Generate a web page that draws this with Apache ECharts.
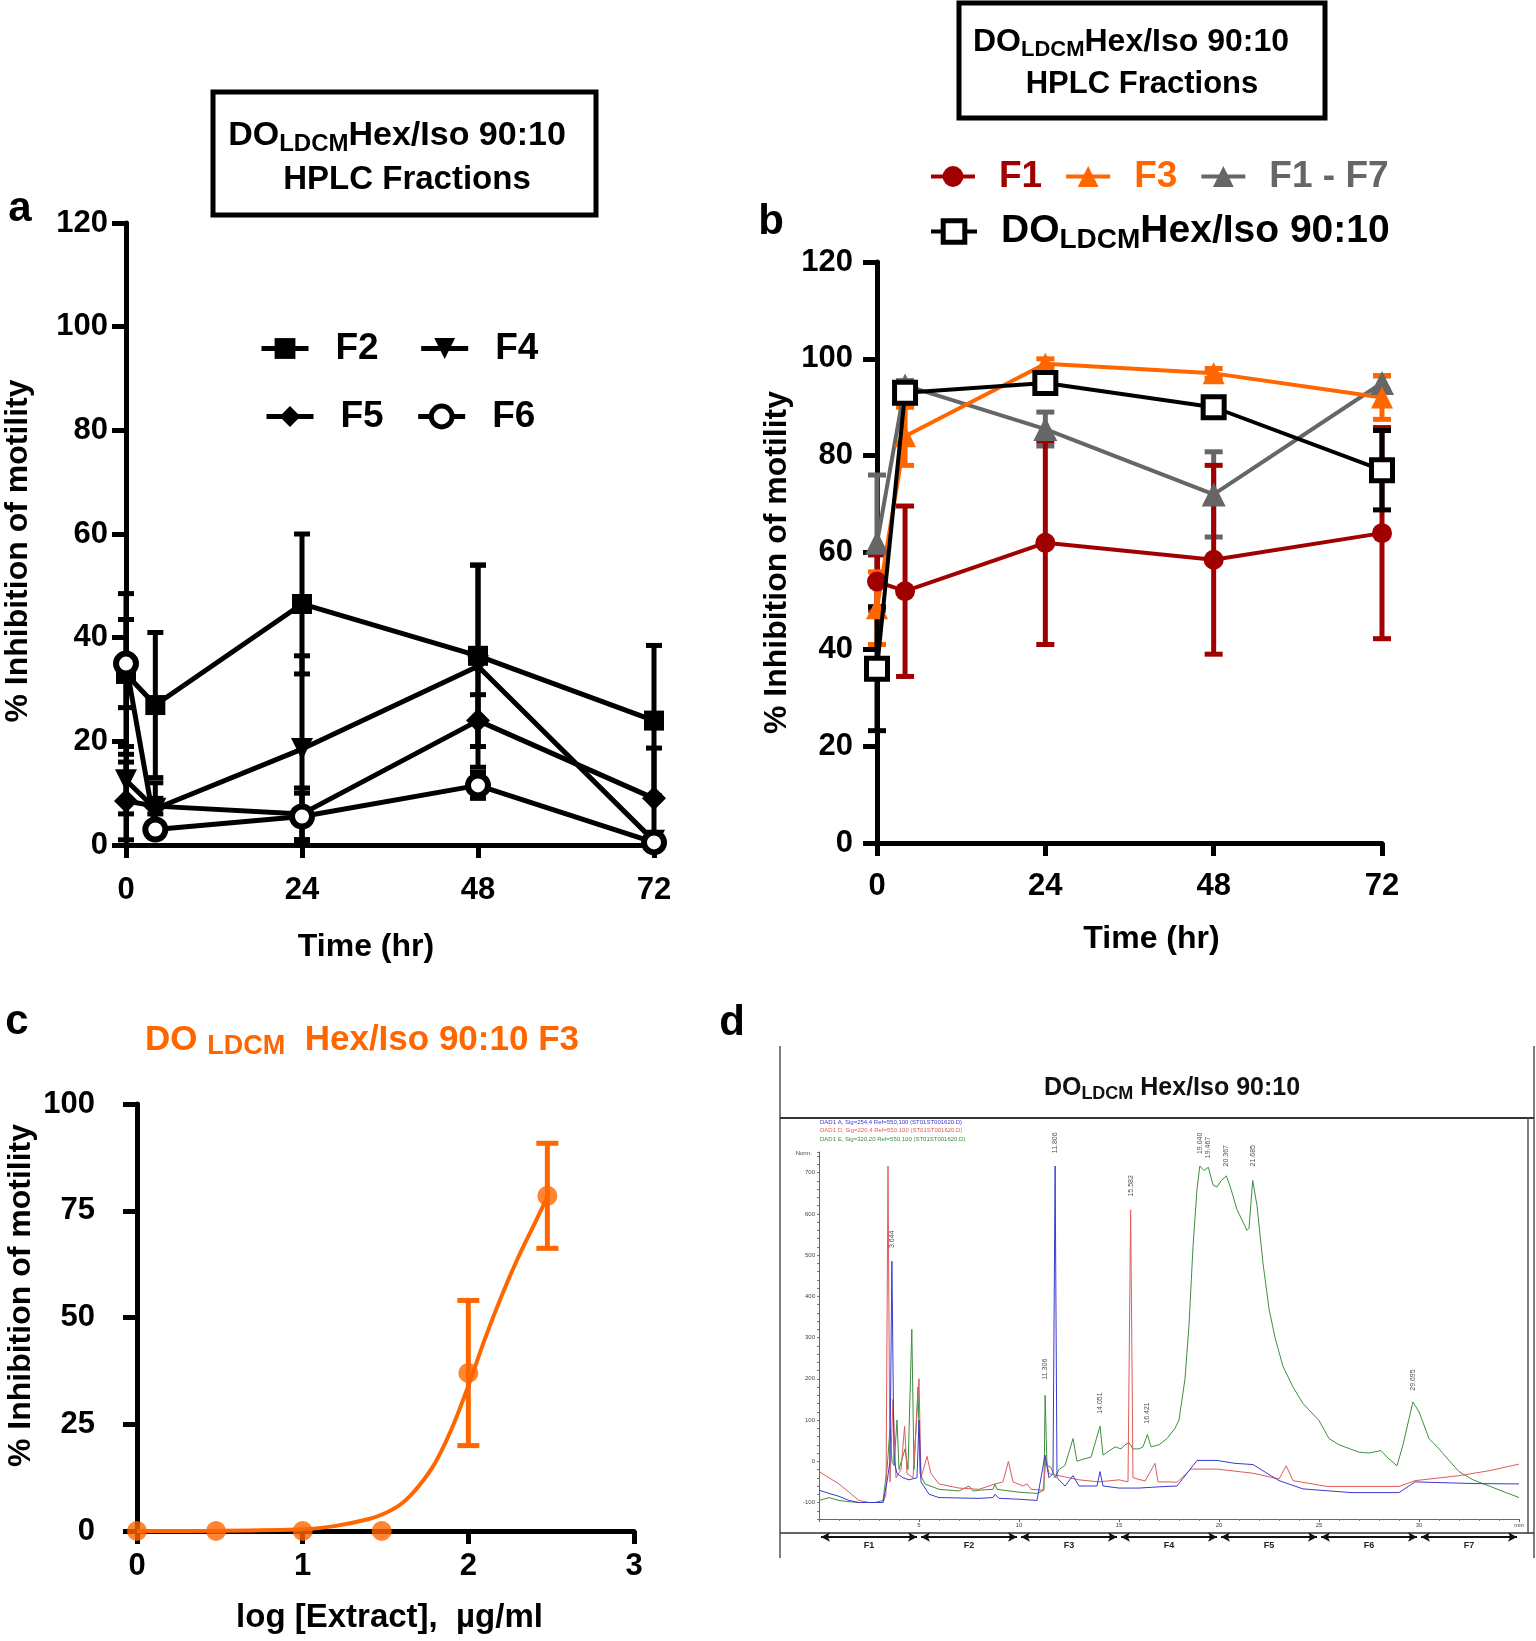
<!DOCTYPE html>
<html><head><meta charset="utf-8">
<script src="https://cdn.jsdelivr.net/npm/echarts@6/dist/echarts.min.js"></script>
<style>html,body{margin:0;padding:0;background:#fff}#c{width:1536px;height:1641px}</style>
</head><body><div id="c"></div>
<script>
// ================= DATA =================
// Panels a & b: time points (hr)
const timePoints = [0, 4, 24, 48, 72];
// Panel a (HPLC fractions F2, F4, F5, F6): mean % inhibition and SD
const a_F2 = [33, 27, 46.5, 36.5, 24];
const a_F2_sd = [15.5, 14, 13.5, 17.5, 14.5];
const a_F4 = [12.5, 7, 18.5, 34.5, 0.8];
const a_F4_sd = [6.5, 5, 18, 19.5, 0.5];
const a_F5 = [8.5, 7.5, 6, 24, 9];
const a_F5_sd = [7.5, 1.5, 5, 5, 9.7];
const a_F6 = [35, 3, 5.5, 11.5, 0.5];
const a_F6_sd = [8.5, 1, 4.5, 2.5, 0.5];
// Panel b
const b_F1 = [54, 52, 62, 58.5, 64];
const b_F1_sd = [5.5, 17.6, 21, 19.5, 21.8];
const b_F3 = [48.5, 84, 99, 97, 92];
const b_F3_sd = [7.5, 6, 1, 1, 4.5];
const b_F1F7 = [62, 94.5, 85.5, 72, 95];
const b_F1F7_sd = [14, 1, 3.5, 8.8, 1.5];
const b_DO = [36, 93, 95, 90, 77];
const b_DO_sd = [12.8, 1, 1, 1.5, 8.2];
// Panel c: dose response of F3
const c_logDose = [0, 0.477, 1, 1.477, 2, 2.477];
const c_inhib = [0, 0, 0, 0, 37, 78.5];
const c_sd = [0, 0, 0, 0, 17, 12.3];
const c_fitX = [0, 0.5, 1.0, 1.2, 1.4, 1.5, 1.6, 1.7, 1.8, 1.9, 2.0, 2.1, 2.2, 2.3, 2.4, 2.48];
const c_fitY = [0, 0.05, 0.4, 1.2, 2.8, 4.2, 6.5, 10.5, 16, 24, 34, 45, 55, 64, 72, 78.5];
// Panel d: HPLC chromatogram traces [retention time (min), response (mAU)]
const traceBlue = [[0,-70],[0.5,-78],[1,-85],[1.5,-95],[2,-100],[3.2,-100],[3.4,-50],[3.55,0],[3.644,485],[3.75,0],[3.9,-30],[4.2,-40],[4.5,-45],[4.9,-40],[5.0,100],[5.1,-50],[5.5,-80],[6,-88],[8,-90],[8.7,-88],[8.8,-80],[9,-90],[10,-92],[10.9,-95],[11.3,15],[11.5,-40],[11.7,-30],[11.806,716],[11.9,-40],[12.3,-60],[12.7,-35],[13,-60],[13.9,-60],[14.05,-25],[14.2,-60],[15,-65],[16,-65],[17,-62],[17.9,-60],[18.9,2],[19.9,2],[20.8,-5],[21.7,-8],[23.0,-47],[24.2,-67],[26.6,-76],[29.0,-76],[29.8,-50],[32.7,-54],[35,-55]];
const traceRed = [[0,-25],[0.5,-40],[1,-55],[1.5,-75],[2,-95],[2.5,-100],[3.2,-100],[3.35,-80],[3.45,716],[3.55,-50],[3.7,150],[3.85,-40],[4.1,-20],[4.28,85],[4.4,-30],[4.7,-40],[5.0,200],[5.1,-40],[5.4,12],[5.6,-30],[6,-55],[7,-65],[8,-68],[8.8,-55],[9.2,-50],[9.47,0],[9.7,-50],[10.2,-60],[10.4,-55],[10.6,-68],[11.2,-70],[11.35,5],[11.5,-30],[12,-35],[12.5,-40],[13,-45],[14,-50],[15,-45],[15.45,-50],[15.582,610],[15.7,-40],[16.3,-48],[16.8,-5],[16.95,-50],[17.5,-50],[17.9,-51],[18.6,-19],[19.9,-19],[21.7,-29],[23,-43],[23.36,-11],[23.7,-47],[25.4,-61],[29.0,-61],[29.8,-47],[32,-35],[33.5,-23],[35,-7]];
const traceGreen = [[0,-95],[0.5,-88],[1,-95],[1.5,-98],[2,-100],[2.8,-100],[3.2,-95],[3.4,-20],[3.55,80],[3.65,0],[3.75,-10],[3.9,100],[4.0,-20],[4.3,30],[4.45,-20],[4.64,320],[4.75,-20],[4.95,180],[5.05,-30],[5.3,-55],[6,-68],[7,-72],[7.5,-60],[7.7,-72],[8,-70],[8.7,-68],[8.8,-55],[8.9,-68],[9.5,-72],[10,-75],[10.9,-78],[11.25,-70],[11.306,160],[11.4,-10],[11.6,-15],[11.8,-40],[12,-20],[12.3,-10],[12.7,55],[12.9,0],[13.2,5],[13.6,10],[14.051,85],[14.2,15],[14.5,25],[14.8,35],[15.1,30],[15.3,40],[15.5,45],[15.7,30],[16,30],[16.2,35],[16.421,65],[16.6,35],[17,40],[17.4,55],[17.8,80],[18,100],[18.3,200],[18.5,330],[18.7,520],[18.9,660],[19.04,716],[19.25,705],[19.467,713],[19.7,670],[19.9,665],[20.1,680],[20.367,692],[20.6,660],[20.9,610],[21.4,560],[21.5,565],[21.685,681],[21.9,620],[22.2,480],[22.5,370],[22.8,300],[23.2,230],[23.7,180],[24.2,140],[25,99],[25.5,55],[26,40],[27,22],[27.5,20],[28.1,26],[28.4,10],[28.9,-11],[29.2,40],[29.695,144],[30,120],[30.5,55],[31,30],[31.5,2],[32,-25],[32.7,-45],[33.5,-60],[34.3,-75],[35,-88]];
const peakTimes = [3.644, 11.806, 15.582, 19.040, 19.467, 20.367, 21.685, 11.306, 14.051, 16.421, 29.695];
const peakLabelAt = [517, 747, 642, 745, 735, 715, 715, 198, 115, 91, 171];
const fractionEdges = [0, 5, 10, 15, 20, 25, 30, 35];
const fractionNames = ['F1','F2','F3','F4','F5','F6','F7'];
const yTicksA = [0, 120, 20], yTicksB = [0, 120, 20], yTicksC = [0, 100, 25];

// ================= STYLE =================
const SANS = "'Liberation Sans', Arial, Helvetica, sans-serif";
const RED = '#a00000', ORANGE = '#ff6600', GRAY = '#666666';
const pair = (xs, ys) => xs.map((x, i) => [x, ys[i]]);

function errSeries(xs, ys, sd, idx, color, lw, cap, z) {
  return {
    type: 'custom', xAxisIndex: idx, yAxisIndex: idx, z: z || 1, silent: true,
    data: xs.map((x, i) => [x, ys[i], sd[i]]),
    encode: { x: 0, y: 1 },
    renderItem: function (params, api) {
      const x = api.value(0), y = api.value(1), e = api.value(2);
      if (!e) return null;
      const hi = api.coord([x, y + e]);
      const lo = api.coord([x, Math.max(0, y - e)]);
      const st = { stroke: color, lineWidth: lw, fill: null };
      return { type: 'group', children: [
        { type: 'line', shape: { x1: hi[0], y1: hi[1], x2: lo[0], y2: lo[1] }, style: st },
        { type: 'line', shape: { x1: hi[0] - cap, y1: hi[1], x2: hi[0] + cap, y2: hi[1] }, style: st },
        { type: 'line', shape: { x1: lo[0] - cap, y1: lo[1], x2: lo[0] + cap, y2: lo[1] }, style: st }
      ]};
    }
  };
}
// fill: symbol fill colour (white for open symbols), color: line/border colour
function lineSeries(name, xs, ys, idx, color, symbol, size, lw, z, bw, fill) {
  return {
    name: name, type: 'line', xAxisIndex: idx, yAxisIndex: idx, data: pair(xs, ys),
    symbol: symbol, symbolSize: size, showSymbol: true, z: z || 3,
    lineStyle: { color: color, width: lw },
    itemStyle: { color: fill || color, borderColor: color, borderWidth: bw || 0 }
  };
}
function mainAxis(o) {
  return {
    gridIndex: o.g, type: 'value', min: o.min, max: o.max, interval: o.interval,
    splitLine: { show: false },
    axisLine: { show: true, onZero: false, lineStyle: { color: '#000', width: o.lw } },
    axisTick: { show: true, length: o.tl, lineStyle: { color: '#000', width: o.lw } },
    axisLabel: { color: '#000', fontSize: o.fs, fontWeight: 'bold', fontFamily: SANS, margin: o.margin },
    name: o.name, nameLocation: 'middle', nameGap: o.nameGap,
    nameTextStyle: { color: '#000', fontSize: o.nfs, fontWeight: 'bold', fontFamily: SANS, padding: o.npad || 0 }
  };
}
const TRI_DOWN = 'path://M0,0 L10,0 L5,9 Z';
const subRich = (m, s, color) => ({
  m: { fontSize: m, fontWeight: 'bold', fontFamily: SANS, color: color, fill: color, lineHeight: m + 6, verticalAlign: 'middle' },
  s: { fontSize: s, fontWeight: 'bold', fontFamily: SANS, color: color, fill: color, lineHeight: s, verticalAlign: 'bottom' }
});
const legLine = w => ({ width: w });

const chart = echarts.init(document.getElementById('c'), null, { renderer: 'canvas', width: 1536, height: 1641 });

const option = {
  animation: false,
  backgroundColor: '#fff',
  grid: [
    { left: 126, top: 223, width: 528, height: 622 },
    { left: 877, top: 262, width: 505, height: 581 },
    { left: 137, top: 1104, width: 497, height: 427 },
    { left: 819, top: 1152, width: 700, height: 367 },
    { left: 819, top: 1530, width: 700, height: 14 }
  ],
  xAxis: [
    mainAxis({ g: 0, min: 0, max: 72, interval: 24, lw: 5, tl: 13, fs: 31, margin: 30, name: 'Time (hr)', nameGap: 86, nfs: 32, npad: [0, 48, 0, 0] }),
    mainAxis({ g: 1, min: 0, max: 72, interval: 24, lw: 5, tl: 13, fs: 31, margin: 28, name: 'Time (hr)', nameGap: 80, nfs: 32, npad: [0, 0, 0, 44] }),
    mainAxis({ g: 2, min: 0, max: 3, interval: 1, lw: 5, tl: 13, fs: 31, margin: 20, name: 'log [Extract],  \u00b5g/ml', nameGap: 70, nfs: 33, npad: [0, 0, 0, 8] }),
    {
      gridIndex: 3, type: 'value', min: 0, max: 35, interval: 5, splitLine: { show: false },
      axisLine: { show: true, onZero: false, lineStyle: { color: '#666', width: 1 } },
      axisTick: { show: true, length: 3, lineStyle: { color: '#666' } },
      minorTick: { show: true, splitNumber: 5, length: 2, lineStyle: { color: '#888' } },
      axisLabel: { fontSize: 6, color: '#444', margin: 3, formatter: v => v === 0 ? '' : (v === 35 ? 'min' : String(v)) }
    },
    { gridIndex: 4, type: 'value', min: 0, max: 35, show: false }
  ],
  yAxis: [
    mainAxis({ g: 0, min: yTicksA[0], max: yTicksA[1], interval: yTicksA[2], lw: 5, tl: 14, fs: 31, margin: 18, name: '% Inhibition of motility', nameGap: 92, nfs: 32, npad: [0, 34, 0, 0] }),
    mainAxis({ g: 1, min: yTicksB[0], max: yTicksB[1], interval: yTicksB[2], lw: 5, tl: 14, fs: 31, margin: 24, name: '% Inhibition of motility', nameGap: 84, nfs: 32, npad: [0, 20, 0, 0] }),
    mainAxis({ g: 2, min: yTicksC[0], max: yTicksC[1], interval: yTicksC[2], lw: 5, tl: 14, fs: 31, margin: 42, name: '% Inhibition of motility', nameGap: 100, nfs: 32, npad: [0, 0, 0, 44] }),
    {
      gridIndex: 3, type: 'value', min: -140, max: 750, interval: 20, splitLine: { show: false },
      axisLine: { show: true, onZero: false, lineStyle: { color: '#666', width: 1 } },
      axisTick: { show: true, length: 2, lineStyle: { color: '#777' } },
      axisLabel: { fontSize: 6, color: '#444', margin: 4, formatter: v => (v % 100 === 0 ? String(v) : '') }
    },
    { gridIndex: 4, type: 'value', min: 0, max: 1, show: false }
  ],
  legend: [
    { data: [{ name: 'F2', lineStyle: legLine(5) }, { name: 'F4', lineStyle: legLine(5) }],
      left: 259, top: 330, itemWidth: 47, itemHeight: 26, itemGap: 40, padding: 0,
      textStyle: { fontSize: 37, fontWeight: 'bold', fontFamily: SANS, color: '#000', padding: [0, 0, 0, 22] } },
    { data: [{ name: 'F5', lineStyle: legLine(5) }, { name: 'F6', lineStyle: legLine(5), itemStyle: { borderWidth: 5, borderColor: '#000', color: '#fff' } }],
      left: 264, top: 398, itemWidth: 47, itemHeight: 26, itemGap: 32, padding: 0,
      textStyle: { fontSize: 37, fontWeight: 'bold', fontFamily: SANS, color: '#000', padding: [0, 0, 0, 22] } },
    { data: [
        { name: 'F1', textStyle: { color: RED }, lineStyle: legLine(4) },
        { name: 'F3', textStyle: { color: ORANGE }, lineStyle: legLine(4) },
        { name: 'F1 - F7', textStyle: { color: GRAY }, lineStyle: legLine(4) }
      ], left: 929, top: 158, itemWidth: 44, itemHeight: 26, itemGap: 22, padding: 0,
      textStyle: { fontSize: 37, fontWeight: 'bold', fontFamily: SANS, padding: [0, 0, 0, 19] } },
    { data: [{ name: 'DO', lineStyle: legLine(4), itemStyle: { borderWidth: 5, borderColor: '#000', color: '#fff' } }],
      left: 929, top: 212, itemWidth: 46, itemHeight: 27, padding: 0,
      formatter: () => '{m|DO}{s|LDCM}{m|Hex/Iso 90:10}',
      textStyle: { fontSize: 39, fontWeight: 'bold', fontFamily: SANS, color: '#000', padding: [0, 0, 0, 19], rich: subRich(39, 28, '#000') } }
  ],
  series: [
    // ---- panel a ----
    errSeries(timePoints, a_F2, a_F2_sd, 0, '#000', 5, 8),
    errSeries(timePoints, a_F4, a_F4_sd, 0, '#000', 5, 8),
    errSeries(timePoints, a_F5, a_F5_sd, 0, '#000', 5, 8),
    errSeries(timePoints, a_F6, a_F6_sd, 0, '#000', 5, 8),
    lineSeries('F2', timePoints, a_F2, 0, '#000', 'rect', 20, 5),
    lineSeries('F4', timePoints, a_F4, 0, '#000', TRI_DOWN, 22, 5),
    lineSeries('F5', timePoints, a_F5, 0, '#000', 'diamond', 24, 5),
    lineSeries('F6', timePoints, a_F6, 0, '#000', 'circle', 20, 5, 3, 6, '#fff'),
    // ---- panel b ----
    errSeries(timePoints, b_F1F7, b_F1F7_sd, 1, GRAY, 5, 9),
    errSeries(timePoints, b_F1, b_F1_sd, 1, RED, 5, 9),
    errSeries(timePoints, b_F3, b_F3_sd, 1, ORANGE, 5, 9),
    errSeries(timePoints, b_DO, b_DO_sd, 1, '#000', 5, 9),
    lineSeries('F1 - F7', timePoints, b_F1F7, 1, GRAY, 'triangle', 24, 4),
    lineSeries('F1', timePoints, b_F1, 1, RED, 'circle', 20, 4),
    lineSeries('F3', timePoints, b_F3, 1, ORANGE, 'triangle', 22, 4),
    lineSeries('DO', timePoints, b_DO, 1, '#000', 'rect', 21, 4, 4, 5, '#fff'),
    // ---- panel c ----
    { name: 'fit', type: 'line', xAxisIndex: 2, yAxisIndex: 2, data: pair(c_fitX, c_fitY), smooth: 0.3,
      symbol: 'none', lineStyle: { color: ORANGE, width: 4 }, z: 2 },
    errSeries(c_logDose, c_inhib, c_sd, 2, ORANGE, 5, 11),
    { name: 'F3 dose', type: 'scatter', xAxisIndex: 2, yAxisIndex: 2, data: pair(c_logDose, c_inhib),
      symbol: 'circle', symbolSize: 20, itemStyle: { color: ORANGE }, z: 4 },
    // ---- panel d ----
    { name: 'DAD1 E', type: 'line', xAxisIndex: 3, yAxisIndex: 3, data: traceGreen, symbol: 'none', lineStyle: { color: '#3f8f3f', width: 1 }, z: 2 },
    { name: 'DAD1 D', type: 'line', xAxisIndex: 3, yAxisIndex: 3, data: traceRed, symbol: 'none', lineStyle: { color: '#e05c5c', width: 1 }, z: 3 },
    { name: 'DAD1 A', type: 'line', xAxisIndex: 3, yAxisIndex: 3, data: traceBlue, symbol: 'none', lineStyle: { color: '#3a3ad0', width: 1 }, z: 3 },
    { name: 'peaks', type: 'scatter', xAxisIndex: 3, yAxisIndex: 3, data: pair(peakTimes, peakLabelAt),
      symbolSize: 1, itemStyle: { color: 'rgba(0,0,0,0)' }, z: 5,
      label: { show: true, position: 'inside', rotate: 90, align: 'left', verticalAlign: 'middle',
        fontSize: 7, color: '#222', formatter: p => peakTimes[p.dataIndex].toFixed(3) } },
    { name: 'fractions', type: 'line', xAxisIndex: 4, yAxisIndex: 4, data: [], symbol: 'none',
      markLine: { silent: true, symbol: ['arrow', 'arrow'], symbolSize: [7, 9], animation: false,
        lineStyle: { color: '#111', width: 2, type: 'solid' },
        label: { show: true, position: 'insideMiddleBottom', distance: 4, fontSize: 9, fontWeight: 'bold', color: '#222', formatter: p => p.name },
        data: fractionNames.map((n, i) => [{ coord: [fractionEdges[i] + 0.1, 0.5], name: n }, { coord: [fractionEdges[i + 1] - 0.1, 0.5] }]) } }
  ],
  graphic: { elements: [
    // panel letters
    { type: 'text', x: 20, y: 209, style: { text: 'a', font: 'bold 42px ' + SANS, fill: '#000', align: 'center', verticalAlign: 'middle' } },
    { type: 'text', x: 771, y: 222, style: { text: 'b', font: 'bold 42px ' + SANS, fill: '#000', align: 'center', verticalAlign: 'middle' } },
    { type: 'text', x: 17, y: 1022, style: { text: 'c', font: 'bold 42px ' + SANS, fill: '#000', align: 'center', verticalAlign: 'middle' } },
    { type: 'text', x: 732, y: 1023, style: { text: 'd', font: 'bold 42px ' + SANS, fill: '#000', align: 'center', verticalAlign: 'middle' } },
    // panel a title box
    { type: 'rect', shape: { x: 213, y: 92, width: 383, height: 123 }, style: { fill: null, stroke: '#000', lineWidth: 5 } },
    { type: 'text', x: 397, y: 136, style: { text: '{m|DO}{s|LDCM}{m|Hex/Iso 90:10}', rich: subRich(34, 24, '#000'), align: 'center', verticalAlign: 'middle' } },
    { type: 'text', x: 407, y: 180, style: { text: 'HPLC Fractions', font: 'bold 33px ' + SANS, fill: '#000', align: 'center', verticalAlign: 'middle' } },
    // panel b title box
    { type: 'rect', shape: { x: 959, y: 3, width: 366, height: 115 }, style: { fill: null, stroke: '#000', lineWidth: 5 } },
    { type: 'text', x: 1131, y: 42, style: { text: '{m|DO}{s|LDCM}{m|Hex/Iso 90:10}', rich: subRich(32, 22, '#000'), align: 'center', verticalAlign: 'middle' } },
    { type: 'text', x: 1142, y: 84, style: { text: 'HPLC Fractions', font: 'bold 31px ' + SANS, fill: '#000', align: 'center', verticalAlign: 'middle' } },
    // panel c title
    { type: 'text', x: 362, y: 1040, style: { text: '{m|DO }{s|LDCM}{m|  Hex/Iso 90:10 F3}', rich: subRich(35, 27, ORANGE), fill: ORANGE, align: 'center', verticalAlign: 'middle' } },
    // panel d frame
    { type: 'line', shape: { x1: 780, y1: 1046, x2: 780, y2: 1558 }, style: { stroke: '#555', lineWidth: 1.5 } },
    { type: 'line', shape: { x1: 1534, y1: 1046, x2: 1534, y2: 1558 }, style: { stroke: '#555', lineWidth: 1.5 } },
    { type: 'line', shape: { x1: 780, y1: 1118, x2: 1534, y2: 1118 }, style: { stroke: '#333', lineWidth: 2 } },
    { type: 'line', shape: { x1: 1528, y1: 1118, x2: 1528, y2: 1533 }, style: { stroke: '#555', lineWidth: 1.5 } },
    { type: 'line', shape: { x1: 780, y1: 1533, x2: 1534, y2: 1533 }, style: { stroke: '#333', lineWidth: 1.5 } },
    { type: 'text', x: 1172, y: 1088, style: { text: '{m|DO}{s|LDCM}{m| Hex/Iso 90:10}', rich: subRich(25, 18, '#111'), align: 'center', verticalAlign: 'middle' } },
    { type: 'text', x: 820, y: 1122, style: { text: 'DAD1 A, Sig=254,4 Ref=550,100 (ST01ST001620.D)', font: '6px ' + SANS, fill: '#3a3ad0', verticalAlign: 'middle' } },
    { type: 'text', x: 820, y: 1130, style: { text: 'DAD1 D, Sig=220,4 Ref=550,100 (ST01ST001620.D)', font: '6px ' + SANS, fill: '#e05c5c', verticalAlign: 'middle' } },
    { type: 'text', x: 820, y: 1139, style: { text: 'DAD1 E, Sig=320,20 Ref=550,100 (ST01ST001620.D)', font: '6px ' + SANS, fill: '#3f8f3f', verticalAlign: 'middle' } },
    { type: 'text', x: 812, y: 1153, style: { text: 'Norm.', font: '6px ' + SANS, fill: '#444', align: 'right', verticalAlign: 'middle' } }
  ]}
};
chart.setOption(option);
</script>
</body></html>
